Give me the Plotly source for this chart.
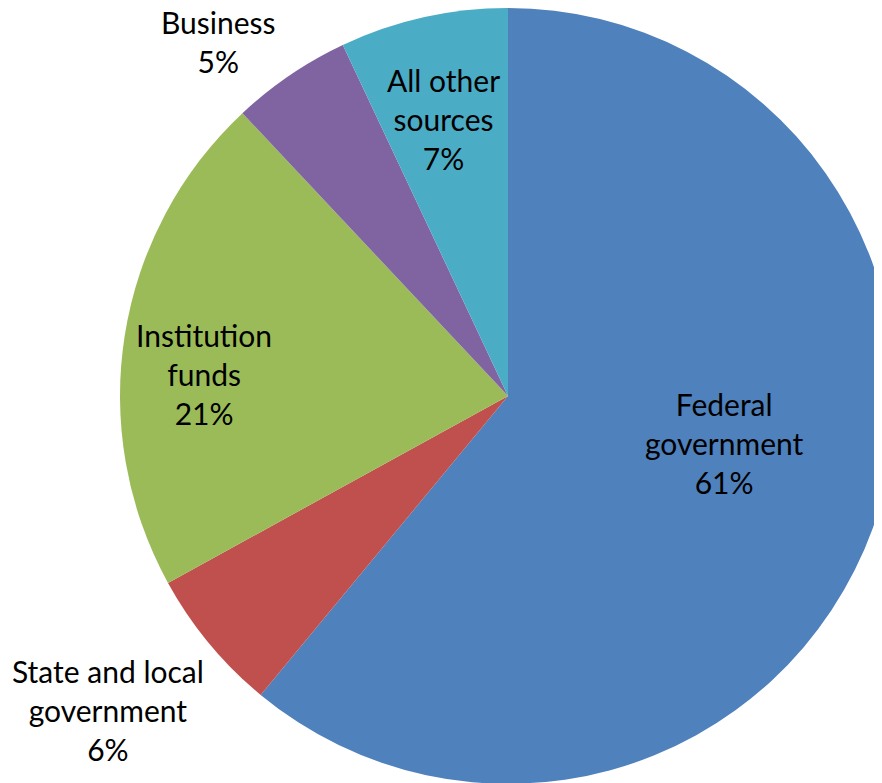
import plotly.graph_objects as go

categories = ["Federal government", "State and local government", "Institution funds", "Business", "All other sources"]
label_text = ["Federal<br>government", "State and local<br>government", "Institution<br>funds", "Business", "All other<br>sources"]
values = [61, 6, 21, 5, 7]
colors = ["#4F81BD", "#C0504D", "#9BBB59", "#8064A2", "#4BACC6"]

W, H = 900, 776
OFF_X, OFF_Y = 8, 11  # page offset of the figure
# label centres in page pixels – layout styling
label_pos = [(724, 446), (108, 713), (204, 377), (218, 45), (443, 122)]

cx, r = 500, 388
fig = go.Figure(go.Pie(
    labels=categories,
    values=values,
    sort=False,
    direction="clockwise",
    rotation=0,
    marker=dict(colors=colors, line=dict(width=0)),
    textinfo="none",
    hoverinfo="label+percent",
    domain=dict(x=[(cx - r) / W, (cx + r) / W], y=[0.0, 1.0]),
    showlegend=False,
))

total = sum(values)
for txt, v, (px, py) in zip(label_text, values, label_pos):
    fig.add_annotation(
        x=(px - OFF_X) / W, y=1 - (py - OFF_Y) / H, xref="paper", yref="paper",
        text=f"{txt}<br>{round(100 * v / total)}%",
        showarrow=False, xanchor="center", yanchor="middle",
        font=dict(family="Lato, Liberation Sans, sans-serif", size=30, color="#000000"),
        align="center", borderpad=0,
    )

fig.update_layout(
    width=W, height=H,
    margin=dict(l=0, r=0, t=0, b=0),
    paper_bgcolor="white",
    plot_bgcolor="white",
)

fig.write_html("out.html")
